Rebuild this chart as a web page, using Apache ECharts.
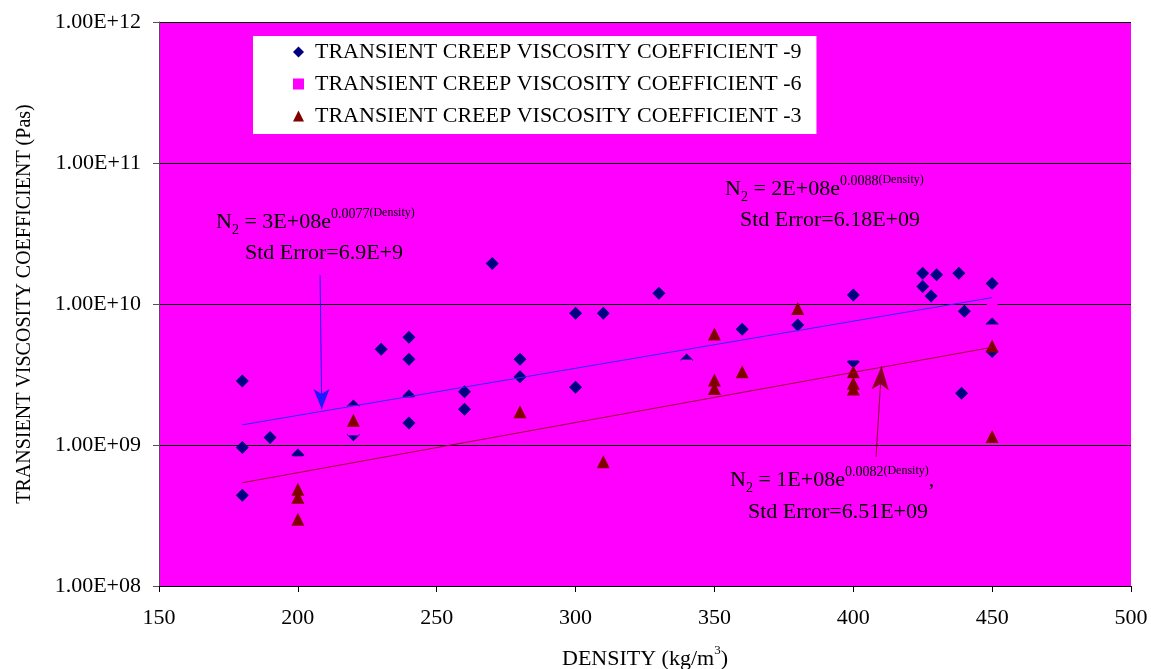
<!DOCTYPE html>
<html>
<head>
<meta charset="utf-8">
<script src="https://cdn.jsdelivr.net/npm/echarts@6/dist/echarts.min.js"></script>
<style>
html,body{margin:0;padding:0;background:#fff;}
#main{width:1151px;height:669px;}
</style>
</head>
<body>
<div id="main"></div>
<script>
// ---- data ----
const seriesNames = [
  'TRANSIENT CREEP VISCOSITY COEFFICIENT -9',
  'TRANSIENT CREEP VISCOSITY COEFFICIENT -6',
  'TRANSIENT CREEP VISCOSITY COEFFICIENT -3'
];
const coef9 = [[180,2.84e9],[180,9.6e8],[180,4.4e8],[190,1.13e9],[200,8.5e8],[220,1.89e9],[220,1.18e9],
  [230,4.77e9],[240,5.8e9],[240,4.06e9],[240,2.23e9],[240,1.43e9],[260,2.39e9],[260,1.79e9],[270,1.94e10],
  [280,4.06e9],[280,3.05e9],[300,8.6e9],[300,2.57e9],[310,8.6e9],[330,1.19e10],[340,4.0e9],[360,6.62e9],
  [380,7.1e9],[400,1.16e10],[400,3.9e9],[425,1.65e10],[425,1.33e10],[428,1.14e10],[430,1.61e10],
  [438,1.65e10],[439,2.33e9],[440,8.9e9],[450,1.40e10],[450,7.2e9],[450,4.6e9]];
const coef6 = [[200,7.6e8],[220,1.28e9],[220,1.74e9],[240,1.99e9],[340,3.69e9],[400,4.35e9],[450,6.55e9],[450,1.0e10]];
const coef3 = [[200,4.86e8],[200,4.26e8],[200,2.97e8],[220,1.5e9],[280,1.72e9],[310,7.6e8],[350,6.12e9],
  [350,2.89e9],[350,2.52e9],[360,3.31e9],[380,9.3e9],[400,3.31e9],[400,2.74e9],[400,2.5e9],[450,5.04e9],[450,1.15e9]];
const trend9 = [[180,1.39e9],[450,1.11e10]];
const trend3 = [[180,5.4e8],[450,4.93e9]];
const arrow9 = [[208.0,1.6e10],[208.6,1.8e9]];
const arrow3 = [[408.2,8.26e8],[410.2,3.63e9]];
const yTickLabels = ['1.00E+08','1.00E+09','1.00E+10','1.00E+11','1.00E+12'];
const xTickValues = [150,200,250,300,350,400,450,500];
const eq9 = ['3E+08e','0.0077','Std Error=6.9E+9'];
const eq9b = ['2E+08e','0.0088','Std Error=6.18E+09'];
const eq3 = ['1E+08e','0.0082','Std Error=6.51E+09'];

const FONT = "'Liberation Serif','Times New Roman',serif";
const chart = echarts.init(document.getElementById('main'), null, {renderer:'canvas'});

const richEq = {
  n:{fontFamily:FONT,fontSize:22,lineHeight:30,color:'#000',verticalAlign:'middle'},
  sub:{fontFamily:FONT,fontSize:14,lineHeight:18,color:'#000',verticalAlign:'bottom'},
  sup:{fontFamily:FONT,fontSize:14,lineHeight:12,color:'#000',verticalAlign:'top'},
  sup2:{fontFamily:FONT,fontSize:12,lineHeight:12,color:'#000',verticalAlign:'top'}
};
function eqText(x, y, eq, comma){
  return {type:'text', z:100, style:{x:x, y:y, verticalAlign:'middle',
    text:'{n|N}{sub|2}{n| = '+eq[0]+'}{sup|'+eq[1]+'}{sup2|(Density)}'+(comma?'{n|,}':''),
    rich:richEq, fill:'#000'}};
}
function stdText(x, y, s){
  return {type:'text', z:100, style:{x:x, y:y, verticalAlign:'middle', text:s,
    fontFamily:FONT, fontSize:22, fill:'#000'}};
}

const option = {
  animation:false,
  backgroundColor:'#ffffff',
  grid:{left:159, right:20, top:22, bottom:83, show:true, backgroundColor:'#FF00FF', borderWidth:0,
    containLabel:false, outerBoundsMode:'none'},
  legend:{
    left:253, top:36, orient:'vertical', backgroundColor:'#ffffff',
    padding:[5,15,7,40], itemGap:10, itemWidth:11, itemHeight:11,
    textStyle:{fontFamily:FONT, fontSize:22, color:'#000', padding:[0,0,0,6]},
    data:[{name:seriesNames[0],icon:'diamond'},{name:seriesNames[1],icon:'rect'},{name:seriesNames[2],icon:'triangle'}]
  },
  xAxis:{
    type:'value', min:150, max:500, interval:50,
    name:'DENSITY (kg/m{sup|3})', nameLocation:'middle', nameGap:58,
    nameTextStyle:{fontFamily:FONT, fontSize:22, color:'#000', lineHeight:30,
      rich:{sup:{fontFamily:FONT,fontSize:13,lineHeight:12,verticalAlign:'top',color:'#000'}}},
    axisLine:{show:true, onZero:false, lineStyle:{color:'#000', width:1}},
    axisTick:{show:true, inside:false, length:6, lineStyle:{color:'#000'}},
    axisLabel:{fontFamily:FONT, fontSize:22, color:'#000', margin:21,
      customValues:xTickValues},
    splitLine:{show:false}
  },
  yAxis:{
    type:'log', logBase:10, min:1e8, max:1e12,
    name:'TRANSIENT VISCOSITY COEFFICIENT (Pas)', nameLocation:'middle', nameRotate:90, nameGap:124,
    nameTextStyle:{fontFamily:FONT, fontSize:20, color:'#000'},
    axisLine:{show:true, lineStyle:{color:'#5a4a5a', width:1}},
    axisTick:{show:true, inside:false, length:6, lineStyle:{color:'#5a4a5a'}},
    axisLabel:{fontFamily:FONT, fontSize:22, color:'#000', margin:18,
      formatter:function(v){ return yTickLabels[Math.round(Math.log10(v))-8]; }},
    splitLine:{show:true, lineStyle:{color:'#000', width:1}}
  },
  series:[
    {name:seriesNames[0], type:'scatter', symbol:'diamond', symbolSize:13,
      itemStyle:{color:'#000080', opacity:1}, data:coef9, z:2},
    {name:seriesNames[1], type:'scatter', symbol:'rect', symbolSize:11,
      itemStyle:{color:'#FF00FF', opacity:1}, data:coef6, z:3},
    {name:seriesNames[2], type:'scatter', symbol:'triangle', symbolSize:13,
      itemStyle:{color:'#800000', opacity:1}, data:coef3, z:4},
    {name:'trend9', type:'line', data:trend9, showSymbol:false, symbol:'none', z:5,
      lineStyle:{color:'#2a2aff', width:1}, silent:true,
      markLine:{silent:true, symbol:['none','arrow'], symbolSize:[12,20], label:{show:false},
        lineStyle:{color:'#1a1aff', width:1, type:'solid'},
        data:[[{coord:arrow9[0]},{coord:arrow9[1]}]]}},
    {name:'trend3', type:'line', data:trend3, showSymbol:false, symbol:'none', z:5,
      lineStyle:{color:'#990033', width:1}, silent:true,
      markLine:{silent:true, symbol:['none','arrow'], symbolSize:[13,24], label:{show:false},
        lineStyle:{color:'#880022', width:1, type:'solid'},
        data:[[{coord:arrow3[0]},{coord:arrow3[1]}]]}}
  ],
  graphic:[
    eqText(216, 222, eq9, false), stdText(245, 253, eq9[2]),
    eqText(725, 189, eq9b, false), stdText(740, 220, eq9b[2]),
    eqText(730, 480, eq3, true), stdText(748, 512, eq3[2])
  ]
};
chart.setOption(option);
</script>
</body>
</html>
